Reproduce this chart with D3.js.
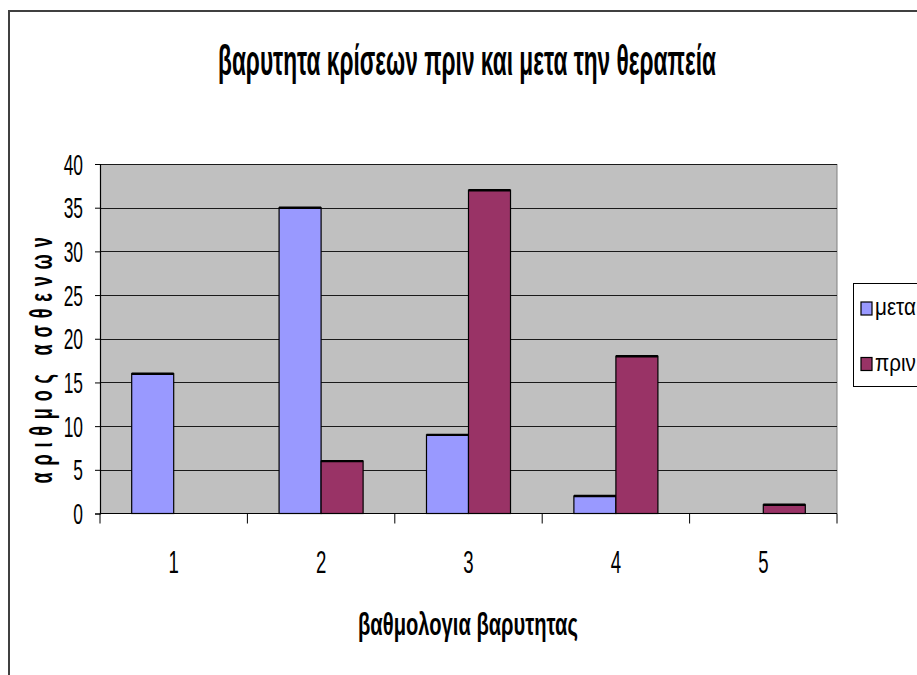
<!DOCTYPE html>
<html>
<head>
<meta charset="utf-8">
<script src="https://cdn.jsdelivr.net/npm/d3@7"></script>
<style>
  html, body { margin: 0; padding: 0; background: #ffffff; }
  svg { display: block; }
  text { font-family: "Liberation Sans", Arial, sans-serif; fill: #000; }
</style>
</head>
<body>
<svg id="chart" width="917" height="675"></svg>
<script>
// Severity scores and number of patients, after (μετα) and before (πριν) treatment
const categories = ["1", "2", "3", "4", "5"];
const seriesNames = ["μετα", "πριν"];
const metaValues = [16, 35, 9, 2, 0];
const prinValues = [0, 6, 37, 18, 1];
const yTicks = [0, 5, 10, 15, 20, 25, 30, 35, 40];

const titleText = "βαρυτητα κρίσεων πριν και μετα την θεραπεία";
const xTitleText = "βαθμολογια βαρυτητας";
const yTitleText = "αριθμος ασθενων";

const colors = { "μετα": "#9999FF", "πριν": "#993366" };

const rows = categories.map((c, i) => ({
  cat: c,
  values: [
    { key: "μετα", value: metaValues[i] },
    { key: "πριν", value: prinValues[i] }
  ]
}));

const svg = d3.select("#chart");

// outer chart frame (runs off the right and bottom edges)
svg.append("path")
  .attr("d", "M9,690 L9,11 L930,11")
  .attr("fill", "none")
  .attr("stroke", "#404040")
  .attr("stroke-width", 2);

const plot = { left: 100, right: 837, top: 164, bottom: 513.5 };

const x0 = d3.scaleBand().domain(categories).range([plot.left, plot.right]).padding(0);
const bw = x0.bandwidth();
const x1 = d3.scaleBand().domain(seriesNames).range([bw * 0.215, bw * 0.785]).padding(0);
const y = d3.scaleLinear().domain([0, 40]).range([plot.bottom, plot.top]);

// condensed lettering: text is squeezed horizontally, either by a fixed
// factor (sx) or so that it spans a given width
function label(parent, x, yy, str, opts) {
  const g = parent.append("g")
    .attr("transform", `translate(${x},${yy})${opts.rotate ? ` rotate(${opts.rotate})` : ""}`);
  const t = g.append("text")
    .attr("x", 0).attr("y", 0)
    .attr("text-anchor", opts.anchor || "middle")
    .attr("font-size", opts.size)
    .attr("font-weight", opts.weight || "normal")
    .text(str);
  if (opts.spacing) t.style("letter-spacing", opts.spacing + "px");
  let sx = opts.sx || 1;
  if (opts.width) {
    sx = opts.width / t.node().getBBox().width;
  }
  t.attr("transform", `scale(${sx},1)`);
  return sx;
}

// plot background
svg.append("rect")
  .attr("x", plot.left).attr("y", plot.top)
  .attr("width", plot.right - plot.left).attr("height", plot.bottom - plot.top)
  .attr("fill", "#C0C0C0");

// right border of plot area
svg.append("line")
  .attr("x1", plot.right).attr("x2", plot.right)
  .attr("y1", plot.top).attr("y2", plot.bottom)
  .attr("stroke", "#808080").attr("stroke-width", 1);

// horizontal gridlines
svg.append("g").selectAll("line")
  .data(yTicks.filter(d => d > 0))
  .join("line")
  .attr("x1", plot.left).attr("x2", plot.right)
  .attr("y1", d => Math.round(y(d)) + 0.5).attr("y2", d => Math.round(y(d)) + 0.5)
  .attr("stroke", "#1a1a1a").attr("stroke-width", 1);

// bars
const groups = svg.append("g").selectAll("g")
  .data(rows)
  .join("g")
  .attr("transform", d => `translate(${x0(d.cat)},0)`);

groups.selectAll("rect")
  .data(d => d.values.filter(v => v.value > 0))
  .join("rect")
  .attr("x", d => x1(d.key))
  .attr("y", d => y(d.value))
  .attr("width", x1.bandwidth())
  .attr("height", d => y(0) - y(d.value))
  .attr("fill", d => colors[d.key])
  .attr("stroke", "#000").attr("stroke-width", 1.2);

// heavier top edge on each bar
groups.selectAll("line.top")
  .data(d => d.values.filter(v => v.value > 0))
  .join("line")
  .attr("class", "top")
  .attr("x1", d => x1(d.key)).attr("x2", d => x1(d.key) + x1.bandwidth())
  .attr("y1", d => y(d.value)).attr("y2", d => y(d.value))
  .attr("stroke", "#000").attr("stroke-width", 2.4);

// y axis
const yAxis = d3.axisLeft(y).tickValues(yTicks).tickSize(5).tickFormat("");
const yg = svg.append("g").attr("transform", `translate(${plot.left},0)`).call(yAxis);
yg.select(".domain").attr("stroke", "#000").attr("stroke-width", 1.2);
yg.selectAll(".tick line").attr("stroke", "#000");
yTicks.forEach(t => {
  label(svg, 83, y(t) + 10.5, String(t), { size: 29, anchor: "end", sx: 0.6 });
});

// x axis with ticks at category boundaries
const boundaries = categories.map(c => x0(c)).concat([plot.right]);
svg.append("line")
  .attr("x1", plot.left).attr("x2", plot.right)
  .attr("y1", plot.bottom).attr("y2", plot.bottom)
  .attr("stroke", "#000").attr("stroke-width", 1.2);
svg.append("g").selectAll("line")
  .data(boundaries)
  .join("line")
  .attr("x1", d => d).attr("x2", d => d)
  .attr("y1", plot.bottom).attr("y2", plot.bottom + 10)
  .attr("stroke", "#000");
categories.forEach(c => {
  label(svg, x0(c) + bw / 2, 573, c, { size: 31, sx: 0.6 });
});

// titles
label(svg, 467, 75, titleText, { size: 42, weight: "bold", width: 498 });
label(svg, 468, 635, xTitleText, { size: 32, weight: "bold", width: 220 });
label(svg, 52, 357, yTitleText, { size: 32, weight: "bold", rotate: -90, spacing: 12, width: 253 });

// legend
const legend = svg.append("g");
legend.append("rect")
  .attr("x", 853.5).attr("y", 283.5)
  .attr("width", 80).attr("height", 103)
  .attr("fill", "#fff").attr("stroke", "#000").attr("stroke-width", 1);
const legendY = { "μετα": 302, "πριν": 357.5 };
let legendSx = null;
seriesNames.forEach(k => {
  legend.append("rect")
    .attr("x", 861).attr("y", legendY[k])
    .attr("width", 11).attr("height", 13)
    .attr("fill", colors[k]).attr("stroke", "#000").attr("stroke-width", 1.2);
  const opts = { size: 24, anchor: "start" };
  if (legendSx === null) opts.width = 41; else opts.sx = legendSx;
  const s = label(legend, 875, legendY[k] + 13, k, opts);
  if (legendSx === null) legendSx = s;
});
</script>
</body>
</html>
